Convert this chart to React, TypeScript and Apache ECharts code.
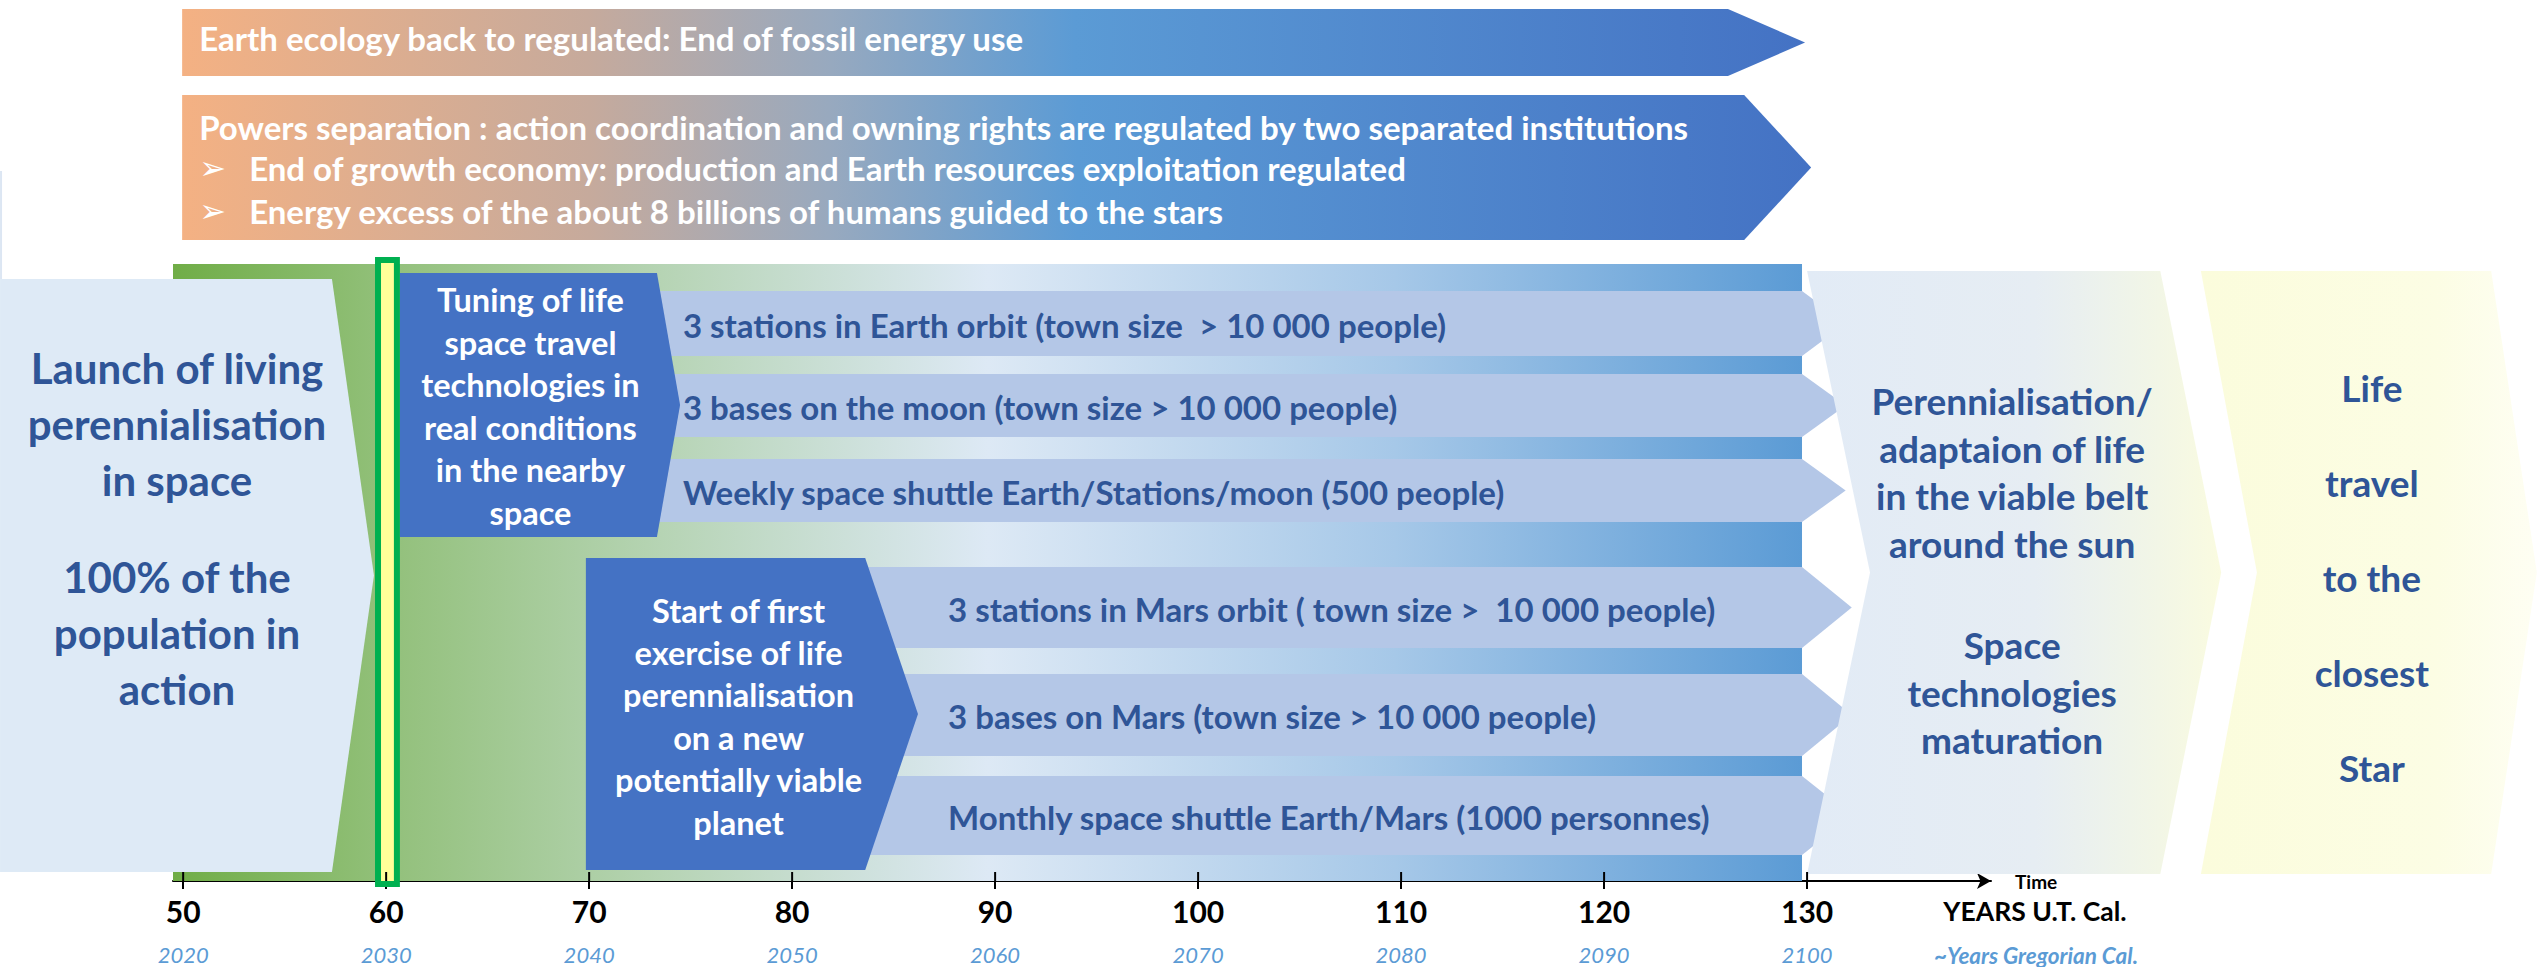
import React, { useEffect, useRef } from 'react';
import * as echarts from 'echarts';

// ---------------- DATA ----------------
const TICK_YEARS = [50, 60, 70, 80, 90, 100, 110, 120, 130];
const GREGORIAN_YEARS = [2020, 2030, 2040, 2050, 2060, 2070, 2080, 2090, 2100];
const AXIS_NAME = 'Time';
const UT_LABEL = 'YEARS U.T. Cal.';
const GREG_LABEL = '~Years Gregorian Cal.';

const BANNER_1 = 'Earth ecology back to regulated: End of fossil energy use';
const BANNER_2_TITLE =
  'Powers separation : action coordination and owning rights are regulated by two separated institutions';
const BANNER_2_BULLETS = [
  'End of growth economy: production and Earth resources exploitation regulated',
  'Energy excess of the about 8 billions of humans guided to the stars',
];

const LAUNCH_LINES = [
  ['Launch of living', 'perennialisation', 'in space'],
  ['100% of the', 'population in', 'action'],
];
const TUNING_LINES = ['Tuning of life', 'space travel', 'technologies in', 'real conditions', 'in the nearby', 'space'];
const MARS_LINES = ['Start of first', 'exercise of life', 'perennialisation', 'on a new', 'potentially viable', 'planet'];
const EARTH_BARS = [
  '3 stations in Earth orbit (town size  > 10 000 people)',
  '3 bases on the moon (town size > 10 000 people)',
  'Weekly space shuttle Earth/Stations/moon (500 people)',
];
const MARS_BARS = [
  '3 stations in Mars orbit ( town size >  10 000 people)',
  '3 bases on Mars (town size > 10 000 people)',
  'Monthly space shuttle Earth/Mars (1000 personnes)',
];
const PERENNIAL_LINES = [
  ['Perennialisation/', 'adaptaion of life', 'in the viable belt', 'around the sun'],
  ['Space', 'technologies', 'maturation'],
];
const STAR_LINES = ['Life', 'travel', 'to the', 'closest', 'Star'];

// spans in U.T. years: [start, bodyEnd, tip] (chevrons: [start, notch, bodyEnd, tip])
const BANNER_1_SPAN = [49.95, 126.1, 129.9];
const BANNER_2_SPAN = [49.95, 126.9, 130.2];
const BAND_SPAN = [49.5, 129.75];
const LAUNCH_SPAN = [40.98, 57.33, 59.4];
const MARKER_SPAN = [59.6, 60.53];
const TUNING_SPAN = [60.68, 73.34, 74.48];
const EARTH_BAR_SPAN = [72.5, 129.75, 131.9];
const MARS_BOX_SPAN = [69.84, 83.6, 86.2];
const MARS_BAR_SPAN = [82.85, 129.75, 132.2];
const PERENNIAL_SPAN = [130, 133.1, 147.4, 150.4];
const STAR_SPAN = [149.4, 152.16, 163.7, 165.95];
const EARTH_TEXT_YEAR = 74.62;
const MARS_TEXT_YEAR = 87.68;
const AXIS_MIN = 49.5;
const AXIS_MAX = 139.06;

// ---------------- LAYOUT (vertical lanes, px) ----------------
const LAYOUT = {
  banner1: [9, 76],
  banner1TextY: 38,
  banner2: [95, 240],
  banner2TextY: [127, 168, 211],
  textLeft: 17,
  bulletText: 67,
  band: [264, 881],
  edgeLine: [171, 279],
  launch: [279, 872],
  launchText: { dx: 11, y: [424, 633], lh: 56 },
  marker: [260, 884],
  tuning: [273, 537],
  tuningText: { dx: 2, y: 406, lh: 42.6 },
  earthBars: [[291, 356], [374, 437], [459, 522]],
  marsBox: [558, 870],
  marsText: { dx: 13, y: 716, lh: 42.4 },
  marsBars: [[567, 648], [674, 756], [776, 855]],
  right: [271, 874],
  perennialText: { dx: -2, y: [472, 692], lh: 47.7 },
  starText: { dx: 3, y: 577, lh: 95 },
  tickUp: 9,
};

// ---------------- STYLES ----------------
const FONT = 'Lato, "Noto Sans", sans-serif';
const DARK_TEXT = '#2F5597';
const DARK_BOX = '#4472C4';
const LIGHT_BAR = '#B4C7E7';
const SIZES = { banner: 33, bar: 33, box: 32.5, launch: 42, right: 37, tick: 30, greg: 22 };

const grad = (stops: [number, string][]) =>
  new echarts.graphic.LinearGradient(0, 0, 1, 0, stops.map(([offset, color]) => ({ offset, color })));

const text = (x: number, y: number, str: string, size: number, fill: string, extra: any = {}) => ({
  type: 'text',
  x,
  y,
  style: {
    text: str,
    fill,
    fontSize: size,
    fontWeight: 'bold',
    fontFamily: FONT,
    align: 'center',
    verticalAlign: 'middle',
    ...extra,
  },
});

type Pt = (x: number, y: number) => number[];

const pentagon = (pt: Pt, span: number[], y0: number, y1: number) => {
  const ym = (y0 + y1) / 2;
  return [pt(span[0], y0), pt(span[1], y0), pt(span[2], ym), pt(span[1], y1), pt(span[0], y1)];
};
const chevron = (pt: Pt, span: number[], y0: number, y1: number) => {
  const ym = (y0 + y1) / 2;
  return [pt(span[0], y0), pt(span[2], y0), pt(span[3], ym), pt(span[2], y1), pt(span[0], y1), pt(span[1], ym)];
};

const ITEMS: ((pt: Pt) => any)[] = [
  // background time band
  (pt) => {
    const [y0, y1] = LAYOUT.band;
    return {
      type: 'polygon',
      shape: { points: [pt(BAND_SPAN[0], y0), pt(BAND_SPAN[1], y0), pt(BAND_SPAN[1], y1), pt(BAND_SPAN[0], y1)] },
      style: {
        fill: grad([
          [0, '#70AD47'],
          [0.13, '#92C07A'],
          [0.3, '#B6D4B4'],
          [0.5, '#DDE9F5'],
          [0.75, '#A6C8E8'],
          [1, '#5B9BD5'],
        ]),
      },
    };
  },
  // upper half of the tick marks
  (pt) => ({
    type: 'group',
    children: TICK_YEARS.map((v) => {
      const p = pt(v, LAYOUT.band[1]);
      return {
        type: 'line',
        shape: { x1: p[0], y1: p[1], x2: p[0], y2: p[1] - LAYOUT.tickUp },
        style: { stroke: '#000000', lineWidth: 2 },
        z2: 50,
      };
    }),
  }),
  // launch phase
  (pt) => {
    const [y0, y1] = LAYOUT.launch;
    const cx = pt((LAUNCH_SPAN[0] + LAUNCH_SPAN[1]) / 2, 0)[0] + LAYOUT.launchText.dx;
    const e0 = pt(LAUNCH_SPAN[0], LAYOUT.edgeLine[0]);
    const e1 = pt(LAUNCH_SPAN[0], LAYOUT.edgeLine[1]);
    return {
      type: 'group',
      children: [
        {
          type: 'line',
          shape: { x1: e0[0] + 1, y1: e0[1], x2: e1[0] + 1, y2: e1[1] },
          style: { stroke: '#DCE6F3', lineWidth: 2 },
        },
        { type: 'polygon', shape: { points: pentagon(pt, LAUNCH_SPAN, y0, y1) }, style: { fill: '#DEEAF6' } },
        ...LAUNCH_LINES.map((lines, i) =>
          text(cx, LAYOUT.launchText.y[i], lines.join('\n'), SIZES.launch, DARK_TEXT, { lineHeight: LAYOUT.launchText.lh })
        ),
      ],
    };
  },
  // "now" marker at year 60
  (pt) => {
    const [y0, y1] = LAYOUT.marker;
    const a = pt(MARKER_SPAN[0], y0);
    const b = pt(MARKER_SPAN[1], y1);
    return {
      type: 'rect',
      shape: { x: a[0], y: a[1], width: b[0] - a[0], height: b[1] - a[1] },
      style: { fill: '#FFFF99', stroke: '#00B050', lineWidth: 6 },
    };
  },
  // earth bars
  (pt) => ({
    type: 'group',
    children: EARTH_BARS.flatMap((label, i) => {
      const [y0, y1] = LAYOUT.earthBars[i];
      return [
        { type: 'polygon', shape: { points: pentagon(pt, EARTH_BAR_SPAN, y0, y1) }, style: { fill: LIGHT_BAR } },
        text(pt(EARTH_TEXT_YEAR, 0)[0], (y0 + y1) / 2 + 1, label, SIZES.bar, DARK_TEXT, { align: 'left' }),
      ];
    }),
  }),
  // tuning box
  (pt) => {
    const [y0, y1] = LAYOUT.tuning;
    const cx = pt((TUNING_SPAN[0] + TUNING_SPAN[1]) / 2, 0)[0] + LAYOUT.tuningText.dx;
    return {
      type: 'group',
      children: [
        { type: 'polygon', shape: { points: pentagon(pt, TUNING_SPAN, y0, y1) }, style: { fill: DARK_BOX } },
        text(cx, LAYOUT.tuningText.y, TUNING_LINES.join('\n'), SIZES.box, '#FFFFFF', { lineHeight: LAYOUT.tuningText.lh }),
      ],
    };
  },
  // mars bars
  (pt) => ({
    type: 'group',
    children: MARS_BARS.flatMap((label, i) => {
      const [y0, y1] = LAYOUT.marsBars[i];
      return [
        { type: 'polygon', shape: { points: pentagon(pt, MARS_BAR_SPAN, y0, y1) }, style: { fill: LIGHT_BAR } },
        text(pt(MARS_TEXT_YEAR, 0)[0], (y0 + y1) / 2 + 1, label, SIZES.bar, DARK_TEXT, { align: 'left' }),
      ];
    }),
  }),
  // mars box
  (pt) => {
    const [y0, y1] = LAYOUT.marsBox;
    const cx = pt((MARS_BOX_SPAN[0] + MARS_BOX_SPAN[1]) / 2, 0)[0] + LAYOUT.marsText.dx;
    return {
      type: 'group',
      children: [
        { type: 'polygon', shape: { points: pentagon(pt, MARS_BOX_SPAN, y0, y1) }, style: { fill: DARK_BOX } },
        text(cx, LAYOUT.marsText.y, MARS_LINES.join('\n'), SIZES.box, '#FFFFFF', { lineHeight: LAYOUT.marsText.lh }),
      ],
    };
  },
  // perennialisation box
  (pt) => {
    const [y0, y1] = LAYOUT.right;
    const cx = pt((PERENNIAL_SPAN[0] + PERENNIAL_SPAN[3]) / 2, 0)[0] + LAYOUT.perennialText.dx;
    return {
      type: 'group',
      children: [
        {
          type: 'polygon',
          shape: { points: chevron(pt, PERENNIAL_SPAN, y0, y1) },
          style: { fill: grad([[0, '#E2EBF6'], [0.55, '#E6EDF3'], [0.85, '#F2F6E6'], [1, '#FAFBE0']]) },
        },
        ...PERENNIAL_LINES.map((lines, i) =>
          text(cx, LAYOUT.perennialText.y[i], lines.join('\n'), SIZES.right, DARK_TEXT, { lineHeight: LAYOUT.perennialText.lh })
        ),
      ],
    };
  },
  // star box
  (pt) => {
    const [y0, y1] = LAYOUT.right;
    const cx = pt((STAR_SPAN[0] + STAR_SPAN[3]) / 2, 0)[0] + LAYOUT.starText.dx;
    return {
      type: 'group',
      children: [
        {
          type: 'polygon',
          shape: { points: chevron(pt, STAR_SPAN, y0, y1) },
          style: { fill: grad([[0, '#FBFCDC'], [0.7, '#FCFDE4'], [1, '#FEFEF3']]) },
        },
        text(cx, LAYOUT.starText.y, STAR_LINES.join('\n'), SIZES.right, DARK_TEXT, { lineHeight: LAYOUT.starText.lh }),
      ],
    };
  },
  // banners
  (pt) => {
    const bannerFill = () =>
      grad([
        [0, '#F4B183'],
        [0.25, '#C6AA9C'],
        [0.4, '#97A9BF'],
        [0.55, '#5B9BD5'],
        [1, '#4472C4'],
      ]);
    const [a0, a1] = LAYOUT.banner1;
    const [b0, b1] = LAYOUT.banner2;
    const left = pt(BANNER_1_SPAN[0], 0)[0];
    const tl = left + LAYOUT.textLeft;
    const opts = { align: 'left' };
    return {
      type: 'group',
      children: [
        { type: 'polygon', shape: { points: pentagon(pt, BANNER_1_SPAN, a0, a1) }, style: { fill: bannerFill() } },
        text(tl, LAYOUT.banner1TextY, BANNER_1, SIZES.banner, '#FFFFFF', opts),
        { type: 'polygon', shape: { points: pentagon(pt, BANNER_2_SPAN, b0, b1) }, style: { fill: bannerFill() } },
        text(tl, LAYOUT.banner2TextY[0], BANNER_2_TITLE, SIZES.banner, '#FFFFFF', opts),
        ...BANNER_2_BULLETS.flatMap((s, i) => [
          text(tl, LAYOUT.banner2TextY[i + 1], '\u27A2', 32, '#FFFFFF', {
            ...opts,
            fontFamily: '"DejaVu Sans", sans-serif',
            fontWeight: 'normal',
          }),
          text(left + LAYOUT.bulletText, LAYOUT.banner2TextY[i + 1], s, SIZES.banner, '#FFFFFF', opts),
        ]),
      ],
    };
  },
];

const option: any = {
  animation: false,
  backgroundColor: '#FFFFFF',
  grid: { left: 173, right: 2539 - 1991, top: 0, bottom: 86, containLabel: false },
  xAxis: {
    type: 'value',
    min: AXIS_MIN,
    max: AXIS_MAX,
    position: 'bottom',
    splitLine: { show: false },
    axisLine: {
      show: true,
      onZero: false,
      symbol: ['none', 'arrow'],
      symbolSize: [12, 14],
      lineStyle: { color: '#000000', width: 2 },
    },
    axisTick: { show: true, customValues: TICK_YEARS, length: 8, lineStyle: { color: '#000000', width: 2 } },
    axisLabel: {
      show: true,
      customValues: TICK_YEARS,
      margin: 10,
      formatter: (v: number) => {
        const i = TICK_YEARS.indexOf(v);
        return `{a|${v}}\n{b|${i >= 0 ? GREGORIAN_YEARS[i] : ''}}`;
      },
      rich: {
        a: { fontFamily: FONT, fontWeight: 'bold', fontSize: SIZES.tick, color: '#000000', lineHeight: 40 },
        b: { fontFamily: FONT, fontStyle: 'italic', fontSize: SIZES.greg, color: '#5B9BD5', lineHeight: 46 },
      },
    },
    name: AXIS_NAME,
    nameLocation: 'end',
    nameGap: 24,
    nameTextStyle: { fontFamily: FONT, fontWeight: 'bold', fontSize: 19, color: '#000000' },
  },
  yAxis: { type: 'value', min: 0, max: 881, inverse: true, show: false },
  graphic: [
    {
      type: 'text',
      x: 2035,
      y: 911,
      style: {
        text: UT_LABEL,
        fill: '#000000',
        fontFamily: FONT,
        fontWeight: 'bold',
        fontSize: 26.5,
        align: 'center',
        verticalAlign: 'middle',
      },
    },
    {
      type: 'text',
      x: 2036,
      y: 955,
      style: {
        text: GREG_LABEL,
        fill: '#5B9BD5',
        fontFamily: FONT,
        fontWeight: 'bold',
        fontStyle: 'italic',
        fontSize: 22.5,
        align: 'center',
        verticalAlign: 'middle',
      },
    },
  ],
  series: [
    {
      type: 'custom',
      xAxisIndex: 0,
      yAxisIndex: 0,
      silent: true,
      clip: false,
      data: ITEMS.map((_, i) => [i]),
      renderItem: (params: any, api: any) => {
        const pt: Pt = (x, y) => api.coord([x, y]);
        return ITEMS[params.dataIndex](pt);
      },
    },
  ],
};

export default function App() {
  const ref = useRef<HTMLDivElement>(null);
  useEffect(() => {
    const chart = echarts.init(ref.current!, null, { renderer: 'svg' });
    chart.setOption(option);
    return () => chart.dispose();
  }, []);
  return (
    <div
      ref={ref}
      style={{ position: 'absolute', left: 0, top: 0, width: 2539, height: 967, background: '#FFFFFF' }}
    />
  );
}
